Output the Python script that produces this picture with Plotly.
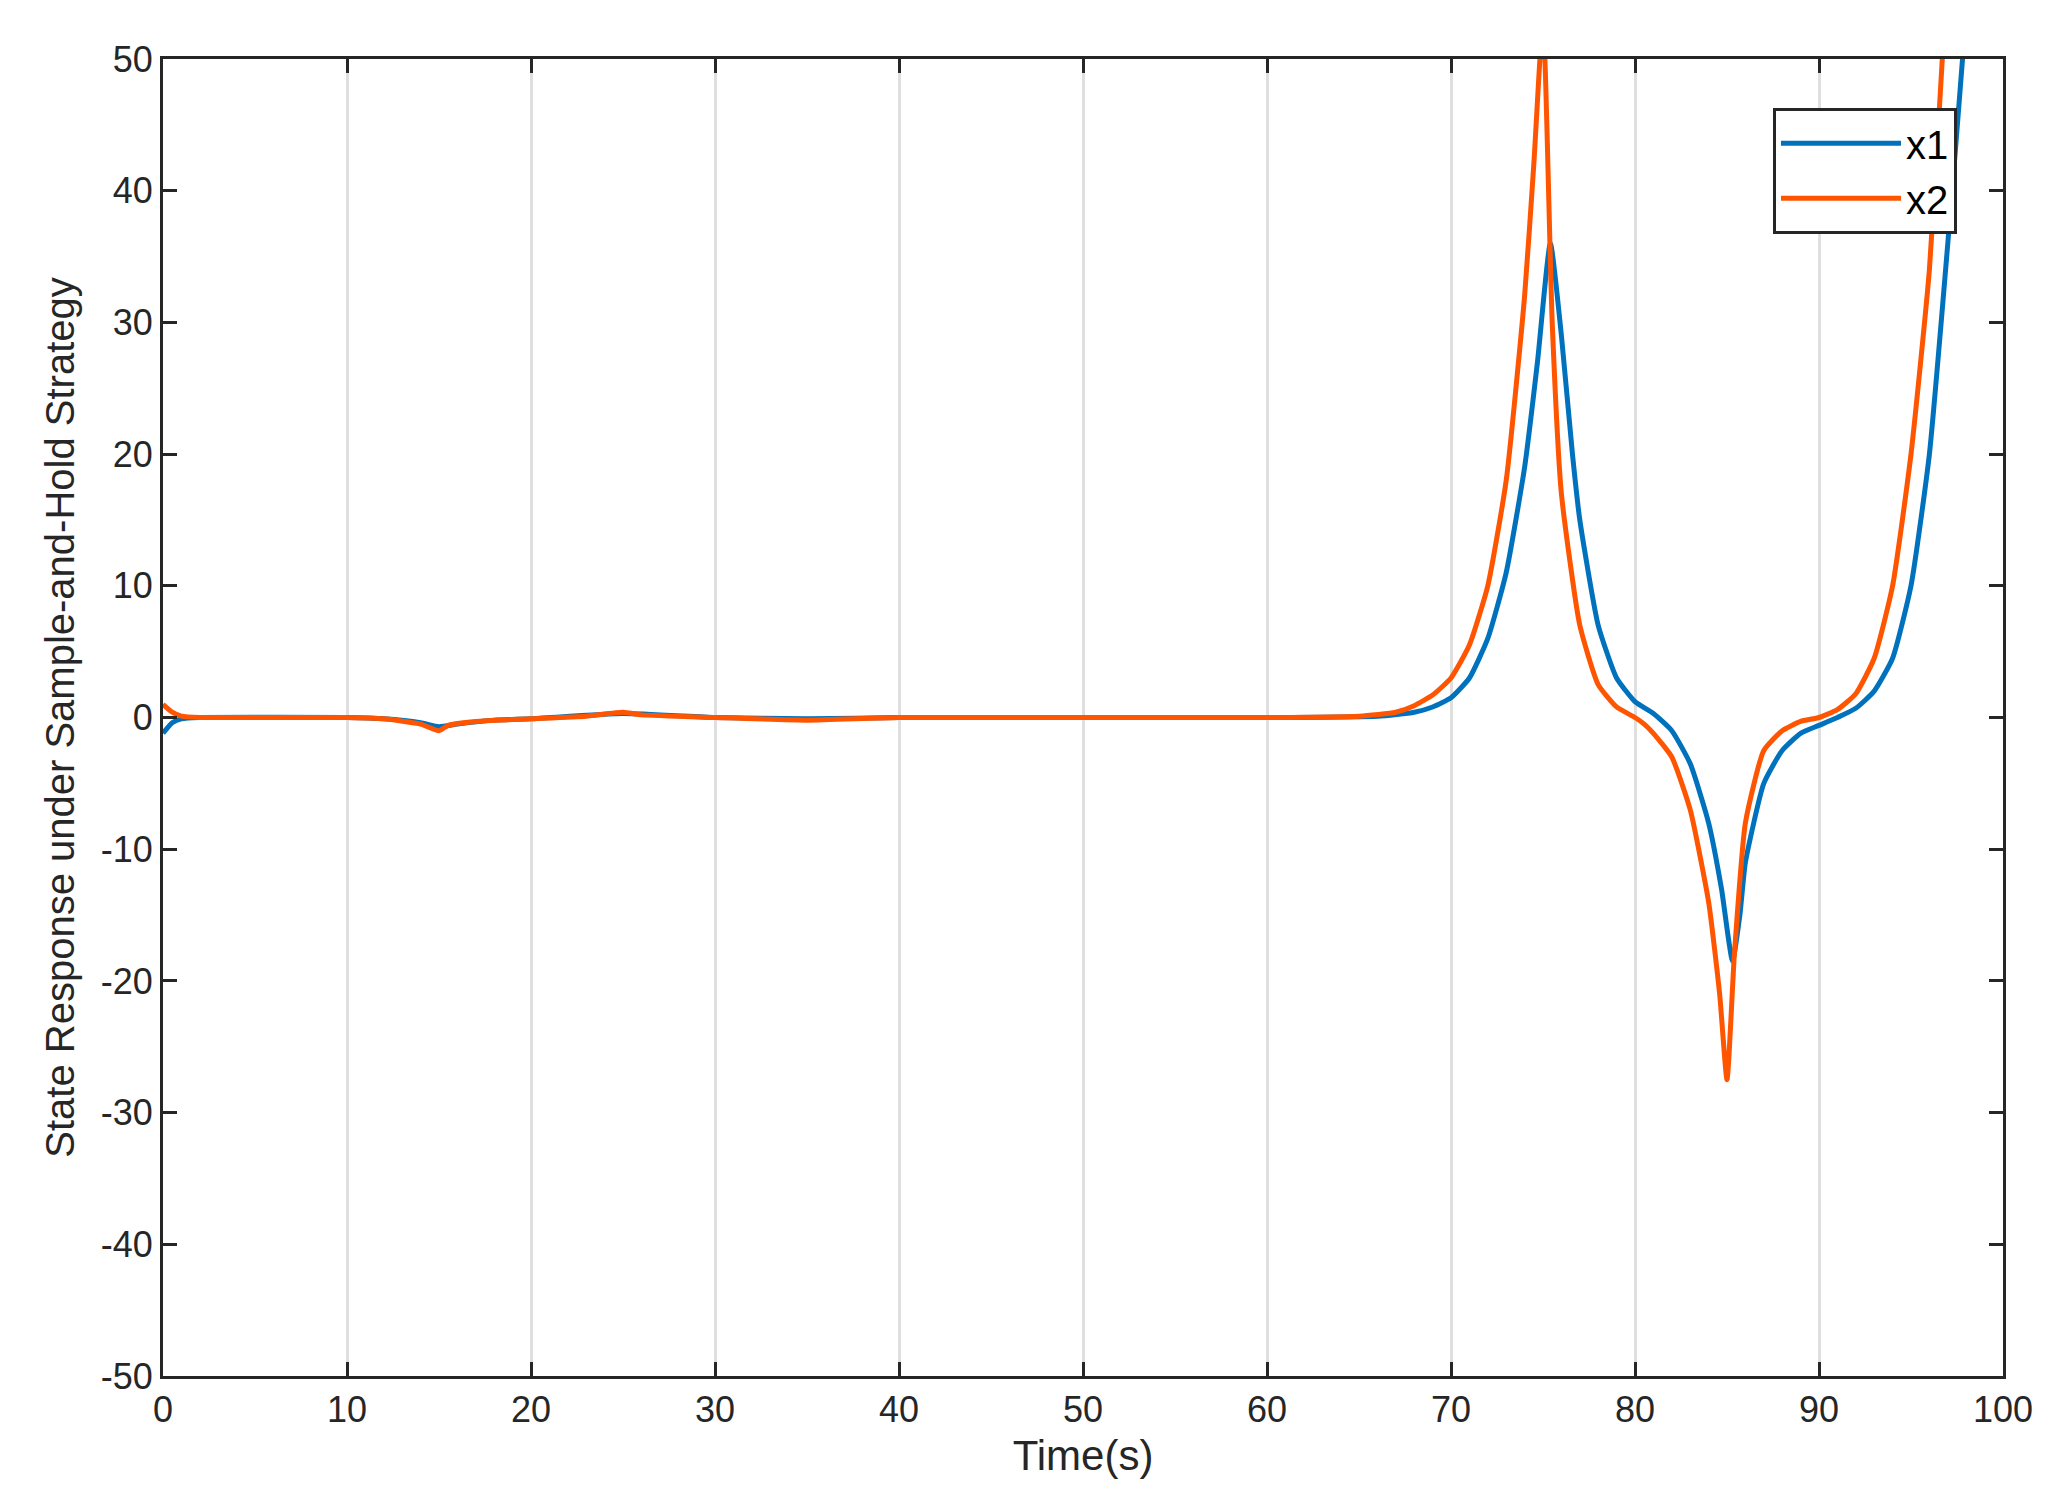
import plotly.graph_objects as go

# values
t1 = [0, 0.5, 1, 2, 10, 12, 14, 15, 16, 18, 20, 25, 30, 35, 40, 60, 66, 68, 69, 70, 71, 72, 73, 74, 74.7, 75.4,
      76, 76.6, 77, 78, 79, 80, 81, 82, 83, 84, 84.7, 85.3, 85.7, 86, 87, 88, 89, 90, 91, 92, 93, 94, 95, 96, 97, 97.8, 98]
x1 = [-1.2, -0.4, -0.1, 0, 0, -0.1, -0.4, -0.7, -0.5, -0.2, -0.1, 0.3, 0, -0.1, 0, 0, 0.1, 0.4, 0.8, 1.5, 3, 6, 11, 19, 27, 36,
      29, 20, 15, 7, 3, 1.2, 0.3, -1, -3.5, -8, -13, -18.5, -15, -11, -5, -2.5, -1.2, -0.6, 0, 0.7, 2, 4.5, 10, 20, 36, 50, 55]

t2 = [0, 0.5, 1, 2, 10, 12, 14, 15, 15.5, 17, 20, 23, 25, 26, 30, 35, 40, 60, 65, 67, 68, 69, 70, 71, 72, 73, 74, 74.5, 75,
      75.5, 76, 77, 78, 79, 80, 80.5, 81, 82, 83, 84, 84.6, 85, 85.4, 86, 87, 88, 89, 90, 91, 92, 93, 94, 95, 96, 96.7, 97]
x2 = [1.0, 0.4, 0.1, 0, 0, -0.1, -0.5, -1.0, -0.6, -0.3, -0.1, 0.1, 0.4, 0.2, 0, -0.2, 0, 0, 0.1, 0.4, 0.9, 1.7, 3, 5.5, 10, 18, 32, 42, 53,
      30, 17, 7, 2.5, 0.8, 0, -0.5, -1.2, -3, -7, -14, -21, -27.5, -18, -8, -2.5, -1, -0.3, 0, 0.6, 1.8, 4.5, 10, 20, 34, 50, 58]

y_ticks = list(range(-50, 51, 10))
y_labels = [str(v) for v in y_ticks]

fig = go.Figure()
fig.add_trace(go.Scatter(x=t1, y=x1, mode='lines', name='x1',
                         line=dict(color='#0072BD', width=5, shape='spline', smoothing=0.5)))
fig.add_trace(go.Scatter(x=t2, y=x2, mode='lines', name='x2',
                         line=dict(color='#FF5500', width=5, shape='spline', smoothing=0.5)))

axis_common = dict(showline=True, linecolor='#262626', linewidth=3, mirror='ticks', ticks='inside', ticklen=14,
                   tickwidth=3, tickcolor='#262626', tickfont=dict(size=36, color='#262626'), zeroline=False)

fig.update_layout(
    width=2050, height=1507,
    paper_bgcolor='white', plot_bgcolor='white',
    font=dict(family='Liberation Sans, Arial', color='#262626'),
    margin=dict(l=155, r=55, t=51, b=139),
    xaxis=dict(range=[0, 100], dtick=10, showgrid=True, gridcolor='#DFDFDF', gridwidth=3,
               title=dict(text='Time(s)', font=dict(size=42), standoff=12), **axis_common),
    yaxis=dict(range=[-50, 50], tickvals=y_ticks, ticktext=y_labels, showgrid=False,
               title=dict(text='State Response under Sample-and-Hold Strategy', font=dict(size=40), standoff=14),
               **axis_common),
    legend=dict(x=0.975, y=0.963, xanchor='right', yanchor='top', bgcolor='white',
                bordercolor='#262626', borderwidth=3, font=dict(size=40, color='black'),
                itemwidth=120, tracegroupgap=0),
    showlegend=True,
)

fig.write_html("out.html")
